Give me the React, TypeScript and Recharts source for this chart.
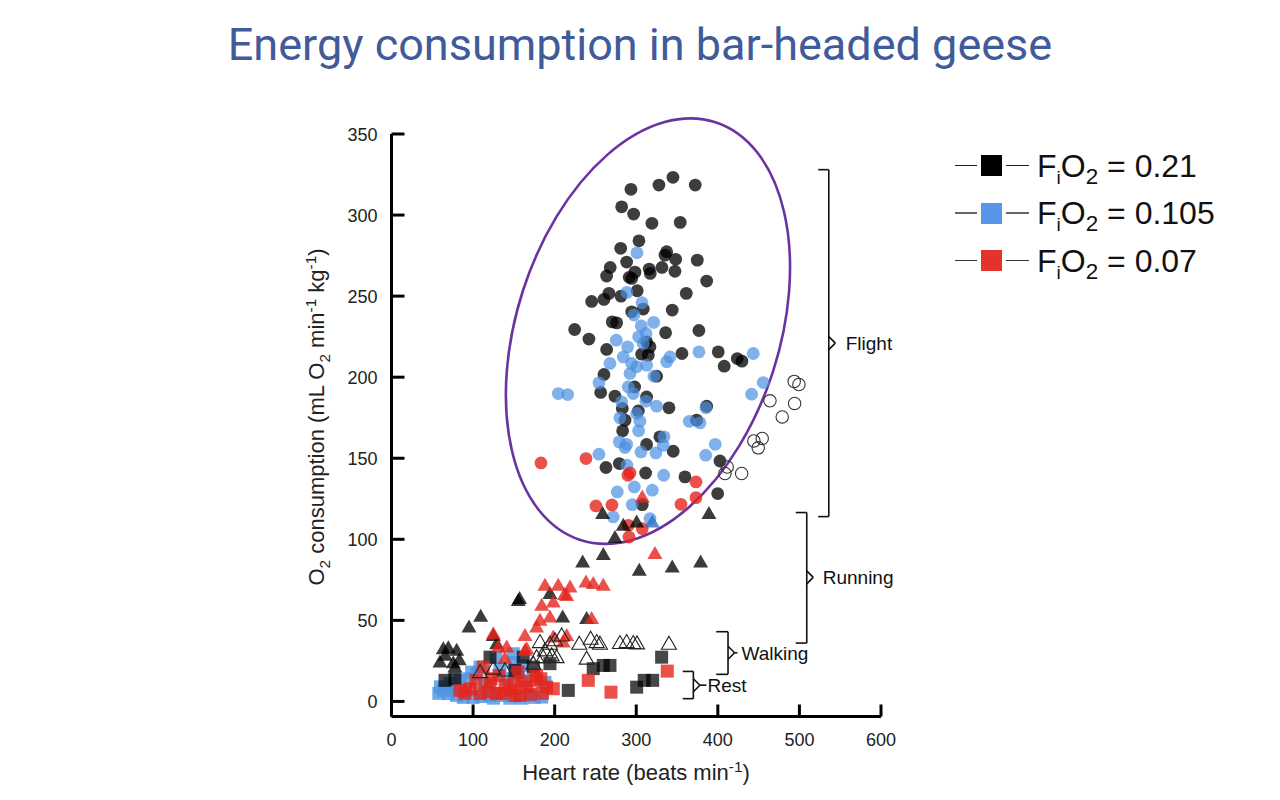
import { ScatterChart, Scatter, XAxis, YAxis, ReferenceArea, ReferenceLine, ReferenceDot } from 'recharts';

type Pt = [number, number];

const xTicks = [0, 100, 200, 300, 400, 500, 600];
const yTicks = [0, 50, 100, 150, 200, 250, 300, 350];

// flight, F_iO2 = 0.21
const flight21: Pt[] = [
  [293.5, 315.9], [327.8, 318.5], [345, 323.3], [372.3, 318.5], [282.1, 305.1], [296.8, 300.6],
  [319.2, 294.9], [353.9, 295.5], [303.3, 284.1], [280.9, 279.5], [337.3, 277.4], [335.2, 275.3],
  [348.3, 272.7], [374.8, 272.2], [288.2, 271], [268.1, 267.7], [315.9, 266.7], [331.5, 267.7],
  [347.4, 265.3], [317.2, 264], [263.7, 262.4], [298.4, 264.8], [291.4, 261.6], [294.4, 260.9],
  [386.3, 259.3], [301.2, 253.3], [361.3, 251.7], [266.5, 251.7], [260.4, 248], [245.3, 246.7],
  [281.3, 250], [294.4, 240.3], [308.6, 242], [344.1, 241.4], [270.6, 234.1], [276, 233.5],
  [224.5, 229.4], [242, 223.5], [336, 227.4], [376.8, 228.8], [312.7, 221.8], [263.7, 217.1],
  [400.5, 215.6], [423.8, 211.5], [429.5, 209.9], [356, 214.6], [306.6, 214.2], [314.7, 213.6],
  [316.8, 218.7], [407.8, 206.8], [260.4, 201.7], [325, 200.6], [298, 194], [256.4, 190.6],
  [273.9, 188.3], [312.7, 187.8], [340.1, 181.1], [282.9, 180.7], [302.5, 179.2], [386.3, 182.1],
  [286.2, 173.5], [374, 173.5], [283.3, 166.9], [329, 163.2], [312.7, 158.5], [345.3, 154.3],
  [262.9, 144.3], [279.2, 146.7], [402.6, 148.3], [311.5, 140.9], [359.7, 138.5], [399.8, 128.2],
  [307.4, 121.4],
];

// flight, F_iO2 = 0.105
const flight105: Pt[] = [
  [300.9, 276.7], [288.6, 252.3], [307, 245.9], [297.2, 238.3], [306.1, 231.7], [321.3, 233.8],
  [275.5, 222.8], [302.9, 224.9], [311.9, 227], [289.5, 218.7], [376.8, 215.6], [443.4, 214.6],
  [341.3, 212.5], [308.6, 220.8], [267.8, 208.5], [284.1, 212.5], [294.4, 208.5], [300.5, 206.4],
  [312.7, 207.4], [337.3, 209.5], [254.3, 196.5], [292.3, 202.3], [321.7, 200.6], [290.2, 194],
  [204.4, 189.9], [215.9, 189.3], [296.3, 189.9], [282.1, 184.8], [311.9, 185.2], [325, 182.1],
  [441.4, 189.5], [455.6, 196.7], [300.5, 177.6], [385.4, 181.1], [280, 174.9], [304.5, 172.8],
  [365, 172.8], [378.1, 171.8], [302.9, 166.9], [334, 163.2], [279.2, 160.1], [288.2, 158.6],
  [333.1, 158], [396.8, 158.6], [286.2, 156.6], [305.8, 153.9], [324.1, 153.3], [385.1, 151.9],
  [254.3, 152.5], [288.6, 145.7], [333.6, 139.5], [276.7, 129.2], [297.6, 132.3], [319.6, 130.3],
  [295.1, 121.4], [271.8, 113.8], [316.8, 112.8],
];

// flight, F_iO2 = 0.07
const flight07: Pt[] = [
  [183.2, 147.1], [238.4, 149.8], [289.8, 139.5], [292.3, 140.9], [373.2, 135.4], [373.2, 125.7],
  [250.6, 120.6], [270.2, 121.2], [354.8, 121.6], [290.2, 108.6], [307.4, 106.6], [291.1, 101.4],
];

// open circles
const flightOpen: Pt[] = [
  [493.6, 197.4], [499.4, 195.5], [463.9, 185.4], [494.1, 183.8], [478.9, 175.5], [454.4, 162.2],
  [444.2, 160.7], [449.5, 156.4], [411.5, 144.6], [408.7, 140.6], [429.2, 140.6],
];

// running
const run21: Pt[] = [
  [258.8, 115.9], [284.1, 108.6], [300.5, 110.7], [273.9, 101.1], [234.3, 86], [259.6, 90.7],
  [303.7, 80.9], [344.1, 82.9], [378.9, 86], [389.1, 115.9], [209.8, 52], [239.2, 51.1],
  [155.4, 62.3], [157, 63.5], [194.2, 66.5], [109.3, 52.5], [95, 45.9], [124.8, 40.7],
  [128.9, 35.6], [63.5, 32.5], [69.6, 33.1], [79.9, 31.5], [59.4, 24.3], [75.7, 23.8],
  [83.1, 25.7], [77.8, 21.2], [66, 28.5],
];
const run105: Pt[] = [[319.6, 110.7]];
const run07: Pt[] = [
  [322.9, 91.2], [188.1, 71.6], [204.4, 71.6], [218.8, 70.6], [214.7, 65.4], [238.4, 73.6],
  [247.3, 72.7], [259.6, 71.6], [184.1, 59.3], [198.3, 61.3], [194.2, 52], [182, 50],
  [177.9, 45.9], [245.3, 51.1], [163.6, 40.7], [130.9, 33.5], [141.2, 33.5], [165.7, 32.5],
  [198.3, 39.7], [214.7, 40.7], [139.1, 26.4], [124.8, 41.8], [210.5, 36.6], [163.6, 31.5],
  [307.4, 126.1], [212, 66],
];

// walking (open triangles)
const walkOpen: Pt[] = [
  [182, 36.6], [200.4, 37.7], [208.6, 40.7], [230.2, 35.6], [244.1, 38.7], [251.5, 36.6],
  [255.5, 35.6], [280, 36], [288.2, 36.6], [296.3, 36], [300.9, 35.8], [340.1, 35.6],
  [239.2, 26.4], [196.3, 28.4], [186, 27.3], [108.5, 18.1], [139.1, 19.1], [124.8, 20.2],
  [173.8, 23.3], [177.9, 27.3], [202.4, 27.3], [188.1, 31.5], [194.2, 35.6],
];

// rest
const rest21: Pt[] = [
  [65.6, 13], [77.8, 14], [120.7, 27.3], [151.3, 19.1], [161.5, 27.3], [173.8, 21.2],
  [194.2, 23.3], [216.7, 6.8], [247.3, 20.2], [259.6, 22.2], [267.8, 22.2], [300.5, 8.8],
  [309.8, 13], [320.1, 13], [331.1, 27.3],
];
const rest105: Pt[] = [
  [63.5, 6.8], [69.6, 4.8], [79.9, 3.7], [98.3, 18.1], [108.5, 21.2], [91.3, 6.8],
  [120.7, 3.7], [149.3, 29.4], [155.4, 18.1], [169.7, 3.7], [184.1, 2.7], [139.1, 3.7],
  [133, 20.4], [83.9, 13], [188.1, 11.7], [163.6, 13], [114.6, 9.9], [71.7, 11.1],
  [58, 5], [60, 9], [75, 8], [88, 2.5], [100, 2.5], [110, 3], [125, 2], [145, 2],
  [160, 2], [175, 2.5], [150, 24], [142, 14], [95, 14], [105, 17], [128, 27], [160, 22],
];
const rest07: Pt[] = [
  [83.9, 6.8], [96.2, 7.8], [112.5, 21.2], [120.7, 10.9], [128.9, 4.8], [139.1, 9.9],
  [145.2, 6.8], [157.5, 3.7], [165.7, 8.8], [175.9, 13], [177.9, 16], [190.2, 8.8],
  [198.3, 7.8], [241.2, 13], [338, 18.7], [269, 5.7], [103.6, 13], [131.7, 16],
  [151.3, 3.7], [108.5, 4.9], [90, 5], [118, 6], [135, 5], [150, 11], [160, 12],
  [170, 4.5], [185, 5], [122, 14], [155, 18], [183, 14],
];

// activity brackets (heart rate / O2 units)
const stages = [
  { name: 'Flight', hr: 536, tickHr: 523, top: 328, bottom: 114, mid: 221, labelHr: 547, gap: 8, tail: false },
  { name: 'Running', hr: 509, tickHr: 495.5, top: 116.5, bottom: 36, mid: 76.5, labelHr: 520, gap: 7, tail: false },
  { name: 'Walking', hr: 412.5, tickHr: 398, top: 43, bottom: 16.7, mid: 30, labelHr: 424, gap: 4, tail: true },
  { name: 'Rest', hr: 370, tickHr: 357, top: 18.5, bottom: 1.7, mid: 10, labelHr: 386, gap: 1, tail: true },
];

const legendRows = [
  { sub: '0.21', color: '#000000', line: '#222' },
  { sub: '0.105', color: '#5596e6', line: '#666' },
  { sub: '0.07', color: '#e5322a', line: '#333' },
];

const toRows = (pts: Pt[]) => pts.map(([hr, vo2]) => ({ hr, vo2 }));

const dot = (fill: string, op: number) => (p: any) => (
  <circle cx={p.cx} cy={p.cy} r={6.4} fill={fill} fillOpacity={op} />
);
const ring = (p: any) => (
  <circle cx={p.cx} cy={p.cy} r={6.2} fill="none" stroke="#333" strokeWidth={1.1} />
);
const square = (fill: string, op: number) => (p: any) => (
  <rect x={p.cx - 6.5} y={p.cy - 6.5} width={13} height={13} fill={fill} fillOpacity={op} />
);
const triPoints = (p: any) => `${p.cx},${p.cy - 7.5} ${p.cx + 7.5},${p.cy + 5.5} ${p.cx - 7.5},${p.cy + 5.5}`;
const tri = (fill: string, op: number) => (p: any) => (
  <polygon points={triPoints(p)} fill={fill} fillOpacity={op} />
);
const openTri = (p: any) => (
  <polygon points={triPoints(p)} fill="none" stroke="#222" strokeWidth={1.1} />
);

const XTick = (p: any) => (
  <g>
    <line x1={p.x} x2={p.x} y1={p.y} y2={p.y - 12} stroke="#000" strokeWidth={3} />
    <text x={p.x} y={p.y + 29} textAnchor="middle" fontSize={18} fill="#222">
      {p.payload.value}
    </text>
  </g>
);

const YTick = (p: any) => (
  <g>
    <line x1={p.x} x2={p.x + 13} y1={p.y} y2={p.y} stroke="#000" strokeWidth={3} />
    <text x={p.x - 14} y={p.y + 6.5} textAnchor="end" fontSize={18} fill="#222">
      {p.payload.value}
    </text>
  </g>
);

const renderEllipse = (p: any) => {
  const cx = p.x + p.width / 2;
  const cy = p.y + p.height / 2;
  return (
    <ellipse
      cx={cx}
      cy={cy}
      rx={p.width * 0.4627}
      ry={p.height * 0.516}
      transform={`rotate(17.9 ${cx} ${cy})`}
      fill="none"
      stroke="#6a34a0"
      strokeWidth={2.6}
    />
  );
};

const FONT = '"Liberation Sans", Arial, sans-serif';
const LINE = { stroke: '#111', strokeWidth: 1.6 };

export default function App() {
  return (
    <div style={{ position: 'absolute', left: 0, top: 0, width: 1280, height: 800, background: '#fff', fontFamily: FONT }}>
      <div
        style={{
          position: 'absolute', top: 19, left: 0, width: 1280, textAlign: 'center',
          fontFamily: 'Roboto, sans-serif', fontSize: 45, lineHeight: '52px', color: '#3f5b9a',
        }}
      >
        Energy consumption in bar-headed geese
      </div>

      <ScatterChart
        width={1280}
        height={800}
        margin={{ top: 134, right: 399, bottom: 53.5, left: 331.5 }}
        style={{ position: 'absolute', left: 0, top: 0, fontFamily: FONT }}
      >
        <XAxis
          type="number"
          dataKey="hr"
          domain={[0, 600]}
          ticks={xTicks}
          height={30}
          tickSize={0}
          tickMargin={0}
          tickLine={false}
          tick={XTick}
          axisLine={{ stroke: '#000', strokeWidth: 3 }}
        />
        <YAxis
          type="number"
          dataKey="vo2"
          domain={[-9.3, 350]}
          ticks={yTicks}
          width={60}
          tickSize={0}
          tickMargin={0}
          tickLine={false}
          tick={YTick}
          axisLine={{ stroke: '#000', strokeWidth: 3 }}
        />

        <Scatter data={toRows(rest105)} shape={square('#4f93e4', 0.8)} isAnimationActive={false} />
        <Scatter data={toRows(rest21)} shape={square('#000', 0.72)} isAnimationActive={false} />
        <Scatter data={toRows(rest07)} shape={square('#e3261d', 0.8)} isAnimationActive={false} />

        <Scatter data={toRows(flight21)} shape={dot('#000', 0.76)} isAnimationActive={false} />
        <Scatter data={toRows(flight105)} shape={dot('#4a90e2', 0.7)} isAnimationActive={false} />
        <Scatter data={toRows(flight07)} shape={dot('#e3261d', 0.8)} isAnimationActive={false} />
        <Scatter data={toRows(flightOpen)} shape={ring} isAnimationActive={false} />

        <Scatter data={toRows(run21)} shape={tri('#000', 0.77)} isAnimationActive={false} />
        <Scatter data={toRows(run105)} shape={tri('#2f6fc0', 0.8)} isAnimationActive={false} />
        <Scatter data={toRows(run07)} shape={tri('#e3261d', 0.8)} isAnimationActive={false} />
        <Scatter data={toRows(walkOpen)} shape={openTri} isAnimationActive={false} />

        <ReferenceArea x1={140.3} x2={488.4} y1={97.2} y2={359.6} ifOverflow="visible" shape={renderEllipse} />

        {stages.map((s) => [
          <ReferenceLine key={`${s.name}-v`} segment={[{ x: s.hr, y: s.top }, { x: s.hr, y: s.bottom }]} {...LINE} />,
          <ReferenceLine key={`${s.name}-t`} segment={[{ x: s.tickHr, y: s.top }, { x: s.hr, y: s.top }]} {...LINE} />,
          <ReferenceLine key={`${s.name}-b`} segment={[{ x: s.tickHr, y: s.bottom }, { x: s.hr, y: s.bottom }]} {...LINE} />,
          <ReferenceLine key={`${s.name}-n1`} segment={[{ x: s.hr, y: s.mid + 4 }, { x: s.hr + 8, y: s.mid }]} {...LINE} />,
          <ReferenceLine key={`${s.name}-n2`} segment={[{ x: s.hr + 8, y: s.mid }, { x: s.hr, y: s.mid - 4 }]} {...LINE} />,
          s.tail ? (
            <ReferenceLine key={`${s.name}-tail`} segment={[{ x: s.hr + 8, y: s.mid }, { x: s.labelHr, y: s.mid }]} {...LINE} />
          ) : null,
          <ReferenceDot
            key={`${s.name}-l`}
            x={s.labelHr}
            y={s.mid}
            r={0}
            fill="none"
            stroke="none"
            label={{ value: s.name, position: 'right', offset: s.gap, fontSize: 19, fill: '#111' }}
          />,
        ])}
      </ScatterChart>

      <div
        style={{
          position: 'absolute', left: 318, top: 417, transform: 'translate(-50%, -50%) rotate(-90deg)',
          whiteSpace: 'nowrap', fontSize: 22, color: '#222',
        }}
      >
        O<sub style={{ fontSize: '0.7em' }}>2</sub> consumption (mL O<sub style={{ fontSize: '0.7em' }}>2</sub> min
        <sup style={{ fontSize: '0.7em' }}>-1</sup> kg<sup style={{ fontSize: '0.7em' }}>-1</sup>)
      </div>

      <div
        style={{
          position: 'absolute', left: 636, top: 772, transform: 'translate(-50%, -50%)',
          whiteSpace: 'nowrap', fontSize: 22, color: '#222',
        }}
      >
        Heart rate (beats min<sup style={{ fontSize: '0.7em' }}>-1</sup>)
      </div>

      {legendRows.map((r, i) => {
        const cy = 165.5 + i * 47.5;
        return (
          <div key={r.sub}>
            <div style={{ position: 'absolute', left: 955, top: cy - 0.75, width: 22, height: 1.5, background: r.line }} />
            <div style={{ position: 'absolute', left: 981, top: cy - 10.5, width: 21, height: 21, background: r.color }} />
            <div style={{ position: 'absolute', left: 1006, top: cy - 0.75, width: 23, height: 1.5, background: r.line }} />
            <div
              style={{
                position: 'absolute', left: 1037, top: cy - 19, height: 38, lineHeight: '38px',
                fontSize: 32, color: '#111', whiteSpace: 'nowrap',
              }}
            >
              F<sub style={{ fontSize: '0.6em' }}>i</sub>O<sub style={{ fontSize: '0.7em' }}>2</sub> = {r.sub}
            </div>
          </div>
        );
      })}
    </div>
  );
}
